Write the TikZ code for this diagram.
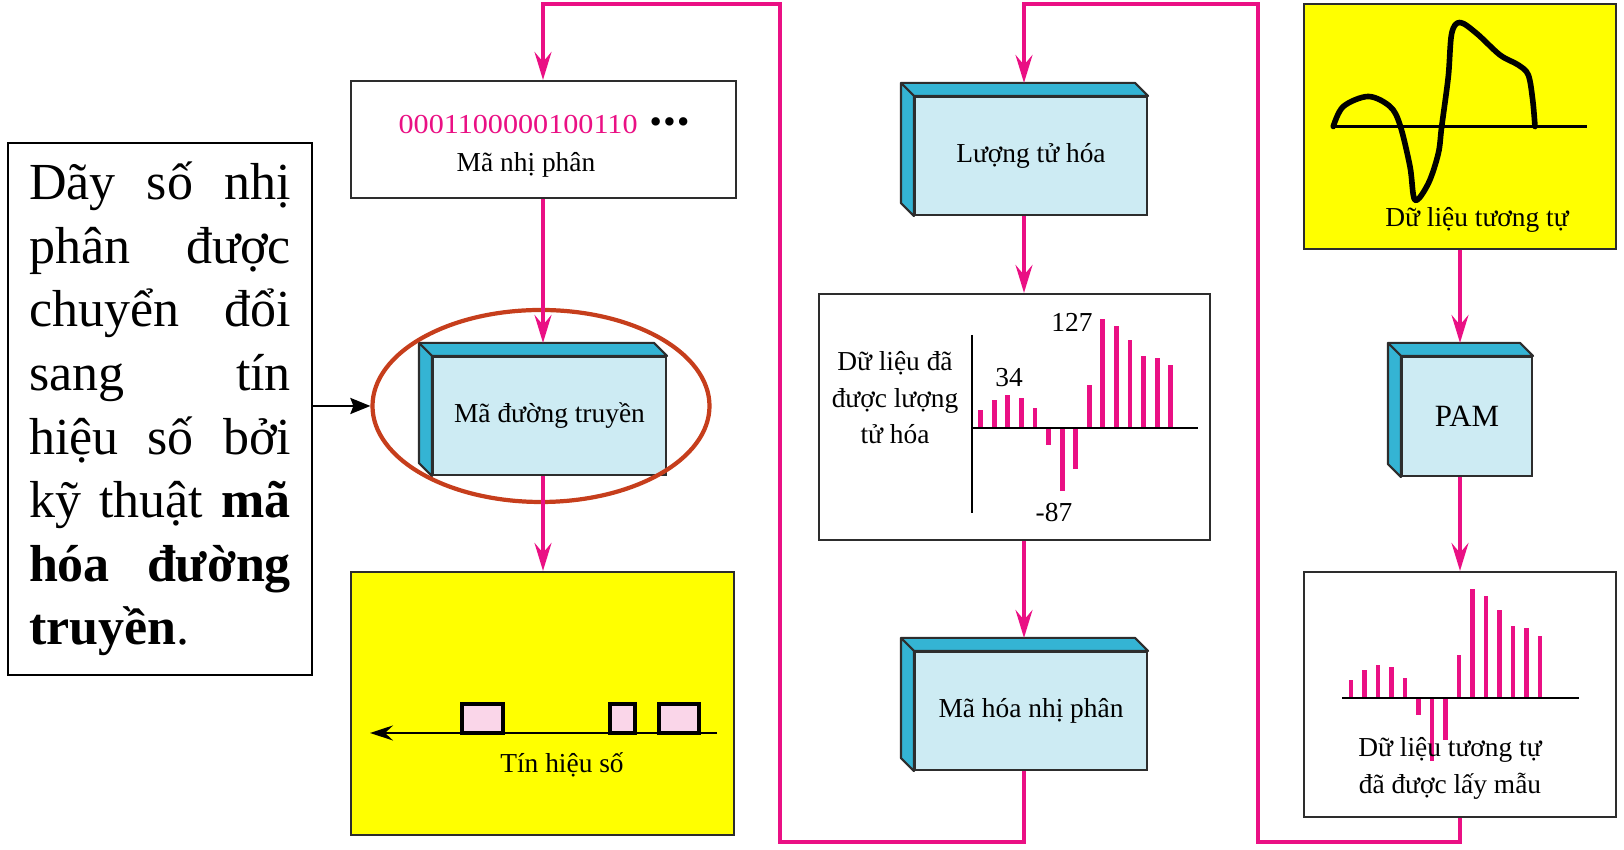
\documentclass[tikz,border=0pt]{standalone}
\usepackage{fontspec}
\setmainfont{Liberation Serif}
\usetikzlibrary{arrows.meta,shapes.geometric}
\definecolor{flowpink}{RGB}{234,16,132}
\definecolor{facecyan}{RGB}{205,235,243}
\definecolor{sidecyan}{RGB}{52,180,212}
\definecolor{ringred}{RGB}{198,62,28}
\definecolor{pulsepink}{RGB}{250,214,233}
\definecolor{edgegray}{RGB}{45,45,45}
\definecolor{brightyellow}{RGB}{255,255,0}

\begin{document}
\begin{tikzpicture}[
    font=\fontsize{7.8}{10.4}\selectfont,
    whitebox/.style={draw=edgegray, line width=0.6pt, fill=white},
    yellowbox/.style={draw=edgegray, line width=0.6pt, fill=brightyellow},
    block/.style={draw=edgegray, line width=0.6pt, fill=facecyan, minimum height=1.18cm},
    flow/.style={draw=flowpink, line width=1pt, -{Stealth[length=2.8mm,width=1.7mm,inset=1mm]}},
    spike/.style={flowpink, line width=1.4pt},
  ]
  \useasboundingbox (0,0) rectangle (16.24,-8.5);

  \coordinate (leftcol) at (5.43,0);
  \coordinate (midcol) at (10.24,0);
  \coordinate (rightcol) at (14.60,0);
  \coordinate (roof) at (0,-0.04);
  \coordinate (floor) at (0,-8.42);
  \coordinate (gap1) at (7.80,0);
  \coordinate (gap2) at (12.58,0);

  % left column
  \node[whitebox, minimum width=3.85cm, minimum height=1.17cm] (bincode) at (5.435,-1.395) {};
  \node (bits) at (5.44,-1.25) {\scalebox{1.1}[1]{\textcolor{flowpink}{0001100000100110}}\hspace{1.2mm}{\fontsize{10}{10}\selectfont\textbullet\kern0.4pt\textbullet\kern0.4pt\textbullet}};
  \node (bitslbl) at (5.26,-1.65) {Mã nhị phân};
  \node[block, minimum width=2.33cm] (linecode) at (5.495,-4.16) {Mã đường truyền};
  \node[yellowbox, minimum width=3.83cm, minimum height=2.63cm] (signal) at (5.425,-7.035) {};
  \begin{scope}[shift={(signal.center)}]
    \draw[line width=0.7pt, -{Stealth[length=2.3mm,width=1.5mm,inset=0.8mm]}] (1.745,-0.295) -- (-1.725,-0.295);
    \foreach \a/\b in {-0.805/-0.395, 0.675/0.925, 1.165/1.565}
      \draw[line width=1.2pt, fill=pulsepink] (\a,-0.295) rectangle (\b,-0.005);
    \node (siglbl) at (0.195,-0.615) {Tín hiệu số};
  \end{scope}

  % middle column
  \node[block, minimum width=2.32cm] (quant) at (10.31,-1.56) {Lượng tử hóa};
  \node[whitebox, minimum width=3.91cm, minimum height=2.46cm] (qdata) at (10.145,-4.17) {};
  \begin{scope}[shift={(qdata.center)}]
    \draw[line width=0.6pt] (-0.425,0.82) -- (-0.425,-0.96);
    \foreach \h [count=\i from 0] in {0.18,0.28,0.33,0.30,0.20,-0.17,-0.63,-0.41,0.43,1.09,1.02,0.88,0.72,0.70,0.63}
      \draw[spike] (-0.338+0.1357*\i,-0.11) -- ++(0,\h);
    \draw[line width=0.6pt] (-0.425,-0.11) -- (1.835,-0.11);
    \node (val127) at (0.575,0.95) {127};
    \node (val34) at (-0.055,0.39) {34};
    \node (val87) at (0.395,-0.96) {-87};
    \node[align=center] (qlbl) at (-1.195,0.19) {Dữ liệu đã\\được lượng\\tử hóa};
  \end{scope}
  \node[block, minimum width=2.32cm] (bincoding) at (10.31,-7.11) {Mã hóa nhị phân};

  % right column
  \node[yellowbox, minimum width=3.12cm, minimum height=2.45cm] (analog) at (14.60,-1.265) {};
  \begin{scope}[shift={(analog.center)}]
    \draw[line width=0.6pt] (-1.27,0) -- (1.27,0);
    \draw[line width=1.6pt, line cap=round, line join=round] plot[smooth, tension=0.55] coordinates {
      (-1.267,0) (-1.167,0.20) (-0.917,0.30) (-0.70,0.20) (-0.60,0.015) (-0.50,-0.40)
      (-0.45,-0.735) (-0.317,-0.57) (-0.217,-0.27) (-0.183,0) (-0.117,0.50) (-0.083,0.93)
      (0,1.04) (0.167,0.93) (0.40,0.715) (0.583,0.615) (0.683,0.515) (0.727,0.265) (0.75,0)};
    \node (analoglbl) at (0.17,-0.935) {Dữ liệu tương tự};
  \end{scope}
  \node[block, minimum width=1.30cm, minimum height=1.19cm, font=\fontsize{8.8}{10}\selectfont] (pam) at (14.67,-4.165) {PAM};
  \node[whitebox, minimum width=3.12cm, minimum height=2.45cm] (sampled) at (14.60,-6.945) {};
  \begin{scope}[shift={(sampled.center)}]
    \foreach \h [count=\i from 0] in {0.18,0.28,0.33,0.31,0.20,-0.17,-0.63,-0.42,0.43,1.09,1.02,0.88,0.72,0.70,0.62}
      \draw[spike] (-1.09+0.135*\i,-0.035) -- ++(0,\h);
    \draw[line width=0.6pt] (-1.18,-0.035) -- (1.19,-0.035);
    \node[align=center, font=\fontsize{7.8}{10.5}\selectfont] (sampledlbl) at (-0.10,-0.74) {Dữ liệu tương tự\\đã được lấy mẫu};
  \end{scope}

  % side and top faces of the blocks
  \foreach \b in {linecode,quant,bincoding,pam} {
    \filldraw[fill=sidecyan, draw=edgegray, line width=0.6pt, line join=round]
      (\b.north west) -- ++(-0.13,0.13) -- ([shift={(-0.13,0.13)}]\b.north east) -- (\b.north east) -- cycle
      (\b.north west) -- ++(-0.13,0.13) -- ([shift={(-0.13,0.13)}]\b.south west) -- (\b.south west) -- cycle;
    \coordinate (\b-top) at ([yshift=1.3mm]\b.north);
  }

  % note on the left, every line but the last set full width
  \node[draw, line width=0.6pt, text width=2.62cm, inner xsep=0.21cm, minimum height=5.32cm, align=justify,
        font=\fontsize{14.8}{18.1}\selectfont] (note) at (1.60,-4.09) {%
    \spaceskip=0pt\xspaceskip=0pt\relax
    \makebox[2.62cm][s]{Dãy số nhị}\\
    \makebox[2.62cm][s]{phân được}\\
    \makebox[2.62cm][s]{chuyển đổi}\\
    \makebox[2.62cm][s]{sang tín}\\
    \makebox[2.62cm][s]{hiệu số bởi}\\
    \makebox[2.62cm][s]{kỹ thuật \textbf{mã}}\\
    \makebox[2.62cm][s]{\textbf{hóa đường}}\\
    \textbf{truyền}.};

  \node[ellipse, draw=ringred, line width=1.2pt, minimum width=3.37cm, minimum height=1.92cm, inner sep=0pt] (ring) at (5.41,-4.06) {};

  \draw[flow] (leftcol |- bincode.south) -- (leftcol |- linecode-top);
  \draw[flow] (leftcol |- linecode.south) -- (leftcol |- signal.north);
  \draw[flow] (midcol |- quant.south) -- (midcol |- qdata.north);
  \draw[flow] (midcol |- qdata.south) -- (midcol |- bincoding-top);
  \draw[flow] (rightcol |- analog.south) -- (rightcol |- pam-top);
  \draw[flow] (rightcol |- pam.south) -- (rightcol |- sampled.north);
  \draw[flow] (midcol |- bincoding.south) -- (midcol |- floor) -- (gap1 |- floor)
    -- (gap1 |- roof) -- (leftcol |- roof) -- (leftcol |- bincode.north);
  \draw[flow] (rightcol |- sampled.south) -- (rightcol |- floor) -- (gap2 |- floor)
    -- (gap2 |- roof) -- (midcol |- roof) -- (midcol |- quant-top);
  \draw[line width=0.7pt, -{Stealth[length=2mm,width=1.6mm,inset=0.3mm]}] (ring.west -| note.east) -- (ring.west);
\end{tikzpicture}
\end{document}
